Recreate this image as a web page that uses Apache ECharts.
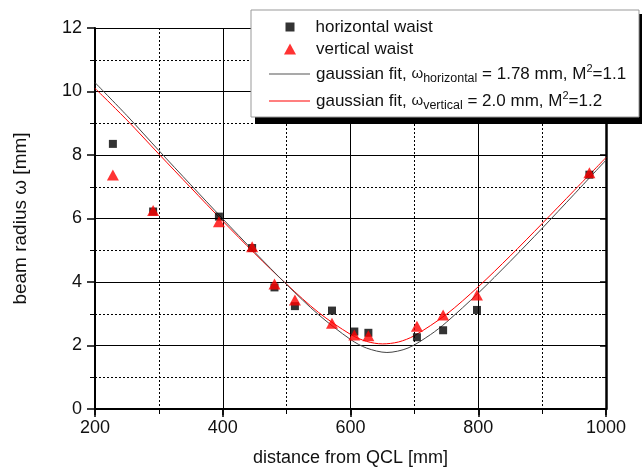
<!DOCTYPE html>
<html><head><meta charset="utf-8">
<script src="https://cdn.jsdelivr.net/npm/echarts@6/dist/echarts.min.js"></script>
<style>html,body{margin:0;padding:0;background:#fff}#c{width:642px;height:472px}</style>
</head><body><div id="c"></div>
<script>
// measured points: horizontal waist (squares)
const hX = [228, 291, 394, 446, 481, 513, 571, 606, 628, 704, 745, 798, 974];
const hY = [8.35, 6.22, 6.06, 5.07, 3.83, 3.24, 3.10, 2.44, 2.40, 2.26, 2.48, 3.12, 7.38];
// measured points: vertical waist (triangles)
const vX = [228, 291, 394, 446, 481, 513, 571, 606, 628, 704, 745, 798, 974];
const vY = [7.37, 6.25, 5.90, 5.11, 3.94, 3.43, 2.70, 2.33, 2.31, 2.61, 2.96, 3.59, 7.44];
// fit curves
const fitHX = [200, 250, 300, 350, 400, 450, 500, 550, 600, 625, 657, 690, 725, 750, 800, 850, 900, 950, 1000];
const fitHY = [10.28, 9.24, 8.14, 7.06, 5.99, 4.94, 3.92, 2.97, 2.19, 1.92, 1.78, 1.92, 2.34, 2.73, 3.65, 4.65, 5.69, 6.76, 7.84];
const fitVX = [200, 250, 300, 350, 400, 450, 500, 550, 600, 625, 650, 675, 700, 750, 800, 850, 900, 950, 1000];
const fitVY = [10.10, 9.10, 8.03, 6.97, 5.92, 4.90, 3.93, 3.04, 2.35, 2.13, 2.05, 2.11, 2.31, 2.98, 3.85, 4.82, 5.84, 6.88, 7.92];
// axes
const xMin = 200, xMax = 1000, xStep = 200;
const yMin = 0, yMax = 12, yStep = 2;
const xTitle = 'distance from QCL [mm]';
const yTitle = 'beam radius \u03c9 [mm]';

const FONT = 'Liberation Sans, Arial, sans-serif';
const zip = (a, b) => a.map((v, i) => [v, b[i]]);
const chart = echarts.init(document.getElementById('c'), null, {renderer: 'canvas'});

const baseAxis = {type: 'value', min: xMin, max: xMax, interval: xStep};
const rich = {
  b: {fontSize: 17, fontFamily: FONT, color: '#111', lineHeight: 22},
  w: {fontSize: 15, fontFamily: FONT, color: '#111', lineHeight: 22},
  sub: {fontSize: 12.5, fontFamily: FONT, color: '#111', verticalAlign: 'bottom', lineHeight: 12},
  sup: {fontSize: 11, fontFamily: FONT, color: '#111', verticalAlign: 'top', lineHeight: 11}
};
const labelFor = {
  'horizontal waist': '{b|horizontal waist}',
  'vertical waist': '{b|vertical waist}',
  'fitH': '{b|gaussian fit, }{w|\u03c9}{sub|horizontal}{b| = 1.78 mm, M}{sup|2}{b|=1.1}',
  'fitV': '{b|gaussian fit, }{w|\u03c9}{sub|vertical}{b| = 2.0 mm, M}{sup|2}{b|=1.2}'
};
function mkLegend(name, left, centerY, w, h, padLeft, icon) {
  const item = icon ? {name: name, icon: icon} : {name: name};
  return {
    data: [item], left: left, top: centerY - 11, padding: 0, orient: 'vertical',
    itemWidth: w, itemHeight: h, z: 20, selectedMode: false,
    formatter: n => labelFor[n],
    textStyle: {padding: [0, 0, 0, padLeft], rich: rich, lineHeight: 22}
  };
}
const numFmt = v => String(v);

const option = {
  animation: false,
  backgroundColor: '#fff',
  grid: {left: 95, right: 36, top: 28, bottom: 63},
  xAxis: [
    Object.assign({}, baseAxis, {
      position: 'bottom',
      name: xTitle, nameLocation: 'middle', nameGap: 40,
      nameTextStyle: {fontSize: 18, fontFamily: FONT, color: '#111'},
      axisLine: {lineStyle: {color: '#000', width: 2}},
      axisTick: {inside: false, length: 8, lineStyle: {color: '#000', width: 1.5}},
      minorTick: {show: true, splitNumber: 2, length: 5, lineStyle: {color: '#000', width: 1}},
      axisLabel: {fontSize: 18, fontFamily: FONT, color: '#111', margin: 10, formatter: numFmt},
      splitLine: {show: true, lineStyle: {color: '#000', width: 1}},
      minorSplitLine: {show: true, lineStyle: {color: '#000', width: 1, type: [2, 2]}}
    }),
    Object.assign({}, baseAxis, {
      position: 'top',
      axisLine: {lineStyle: {color: '#000', width: 1.5}},
      axisTick: {inside: true, length: 6, lineStyle: {color: '#000', width: 1.5}},
      minorTick: {show: true, splitNumber: 2, length: 4, lineStyle: {color: '#000'}},
      axisLabel: {show: false},
      splitLine: {show: false}
    })
  ],
  yAxis: [
    {
      type: 'value', min: yMin, max: yMax, interval: yStep, position: 'left',
      name: yTitle, nameLocation: 'middle', nameGap: 65,
      nameTextStyle: {fontSize: 19, fontFamily: FONT, color: '#111'},
      axisLine: {show: true, lineStyle: {color: '#000', width: 2}},
      axisTick: {show: true, inside: false, length: 8, lineStyle: {color: '#000', width: 1.5}},
      minorTick: {show: true, splitNumber: 2, length: 5, lineStyle: {color: '#000', width: 1}},
      axisLabel: {fontSize: 18, fontFamily: FONT, color: '#111', margin: 13, formatter: numFmt},
      splitLine: {show: true, lineStyle: {color: '#000', width: 1}},
      minorSplitLine: {show: true, lineStyle: {color: '#000', width: 1, type: [2, 2]}}
    },
    {
      type: 'value', min: yMin, max: yMax, interval: yStep, position: 'right',
      axisLine: {show: true, lineStyle: {color: '#000', width: 2.5}},
      axisTick: {show: true, inside: true, length: 6, lineStyle: {color: '#000', width: 1.5}},
      minorTick: {show: true, splitNumber: 2, length: 4, lineStyle: {color: '#000'}},
      axisLabel: {show: false},
      splitLine: {show: false}
    }
  ],
  legend: [
    mkLegend('horizontal waist', 285.5, 27, 9, 9, 16),
    mkLegend('vertical waist', 284, 49, 12, 11, 15),
    mkLegend('fitH', 269, 74, 41, 1.2, 1, 'rect'),
    mkLegend('fitV', 269, 101, 41, 1.2, 1, 'rect')
  ],
  graphic: [
    {type: 'rect', z: 10, shape: {x: 255, y: 14, width: 388, height: 110}, style: {fill: '#000'}},
    {type: 'rect', z: 11, shape: {x: 251, y: 10, width: 388, height: 107}, style: {fill: '#fff', stroke: '#999', lineWidth: 1}}
  ],
  series: [
    {name: 'fitV', type: 'line', data: zip(fitVX, fitVY), smooth: 0.3, showSymbol: false, symbol: 'none',
     lineStyle: {color: '#ff0000', width: 1}, itemStyle: {color: '#ff0000'}, z: 3},
    {name: 'fitH', type: 'line', data: zip(fitHX, fitHY), smooth: 0.3, showSymbol: false, symbol: 'none',
     lineStyle: {color: '#444', width: 1}, itemStyle: {color: '#555'}, z: 3},
    {name: 'horizontal waist', type: 'scatter', data: zip(hX, hY), symbol: 'rect', symbolSize: 8,
     itemStyle: {color: '#000'}, z: 4},
    {name: 'vertical waist', type: 'scatter', data: zip(vX, vY), symbol: 'triangle', symbolSize: [12, 11],
     itemStyle: {color: '#ff0000'}, z: 5}
  ]
};
chart.setOption(option);
</script>
</body></html>
